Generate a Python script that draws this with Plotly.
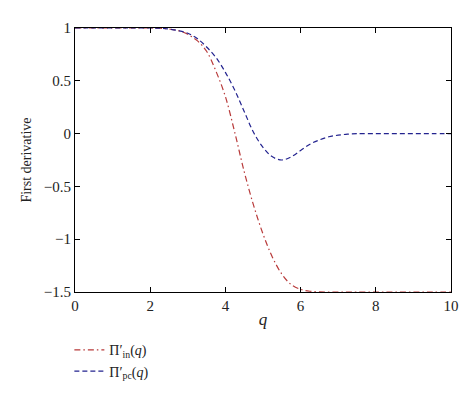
import plotly.graph_objects as go

# q values (nonuniform: dense where the curves bend)
q = [0, 0.5, 1, 1.5, 2, 2.25, 2.5, 2.75, 3, 3.25, 3.5, 3.75, 4, 4.25, 4.5, 4.75,
     5, 5.25, 5.5, 5.75, 6, 6.25, 6.5, 6.75, 7, 7.25, 7.5, 8, 8.5, 9, 9.5, 10]

pi_in = [1, 1, 1, 1, 1, 0.998, 0.99, 0.975, 0.94, 0.88, 0.78, 0.59, 0.35, 0.01,
         -0.36, -0.68, -0.95, -1.17, -1.33, -1.43, -1.475, -1.493, -1.499, -1.5,
         -1.5, -1.5, -1.5, -1.5, -1.5, -1.5, -1.5, -1.5]

pi_pc = [1, 1, 1, 1, 1, 0.998, 0.99, 0.975, 0.95, 0.9, 0.82, 0.72, 0.58, 0.41,
         0.21, 0.01, -0.13, -0.22, -0.25, -0.22, -0.16, -0.1, -0.06, -0.03,
         -0.015, -0.005, 0, 0, 0, 0, 0, 0]

x_ticks = [0, 2, 4, 6, 8, 10]
y_ticks = [1, 0.5, 0, -0.5, -1, -1.5]
y_labels = ["1", "0.5", "0", "\u22120.5", "\u22121", "\u22121.5"]

font = "Liberation Serif"

fig = go.Figure()
fig.add_trace(go.Scatter(
    x=q, y=pi_in, mode="lines", line_shape="spline",
    name="\u03a0\u2032<sub>in</sub>(<i>q</i>)",
    line=dict(color="#b83a3a", width=1.2, dash="6px,3px,1.5px,3px"),
))
fig.add_trace(go.Scatter(
    x=q, y=pi_pc, mode="lines", line_shape="spline",
    name="\u03a0\u2032<sub>pc</sub>(<i>q</i>)",
    line=dict(color="#23238f", width=1.2, dash="5px,3px"),
))

axis_common = dict(
    showline=True, linecolor="black", linewidth=1, mirror="ticks",
    ticks="inside", ticklen=5, tickcolor="black", showgrid=False,
    zeroline=False, tickfont=dict(family=font, size=15, color="#222"),
)

fig.update_xaxes(range=[0, 10], tickvals=x_ticks,
                 title=dict(text="<i>q</i>", font=dict(family=font, size=17), standoff=0),
                 **axis_common)
fig.update_yaxes(range=[-1.5, 1], tickvals=y_ticks, ticktext=y_labels,
                 title=dict(text="First derivative", font=dict(family=font, size=14), standoff=8),
                 **axis_common)

fig.update_layout(
    width=474, height=407,
    margin=dict(l=67, r=31, t=14, b=123),
    paper_bgcolor="white", plot_bgcolor="white",
    font=dict(family=font, color="#222"),
    legend=dict(x=-0.015, y=-0.16, xanchor="left", yanchor="top",
                font=dict(family=font, size=14), bgcolor="rgba(0,0,0,0)",
                tracegroupgap=0, itemwidth=30),
)

fig.write_html("out.html")
